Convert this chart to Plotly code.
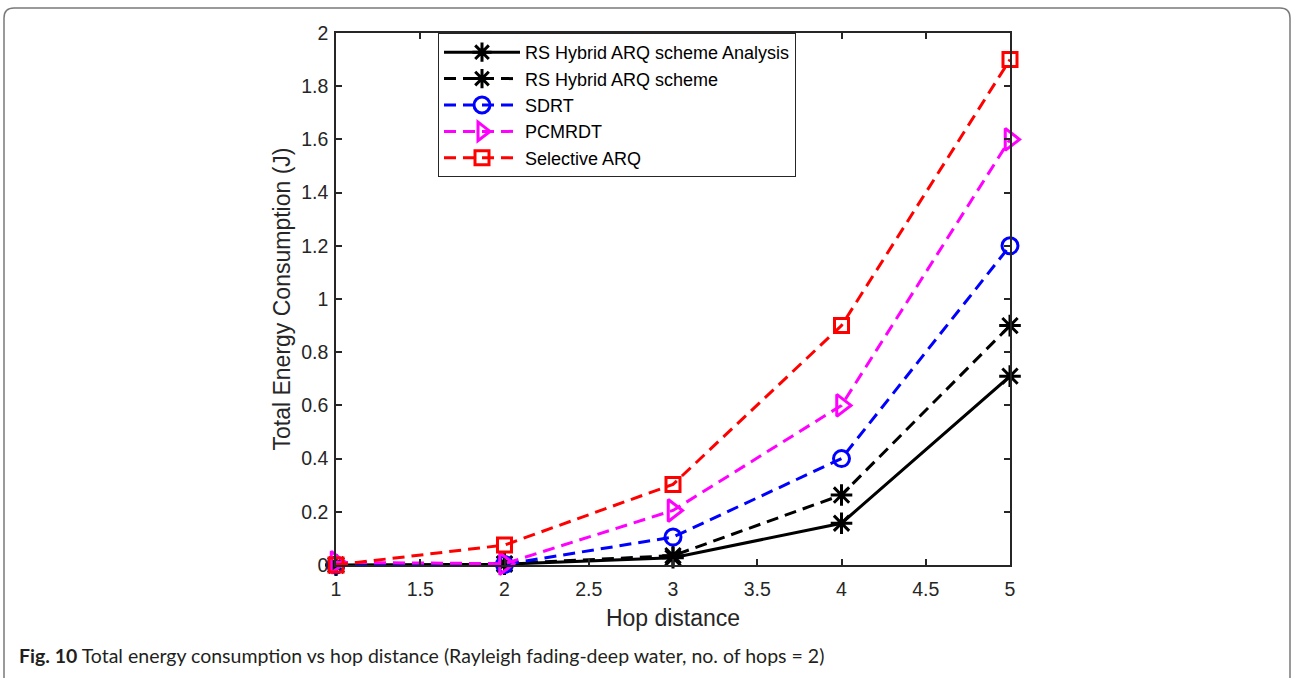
import plotly.graph_objects as go

hops = [1, 2, 3, 4, 5]
rs_analysis = [0.0, 0.003, 0.027, 0.157, 0.71]
rs_sim = [0.0, 0.005, 0.035, 0.263, 0.90]
sdrt = [0.0, 0.002, 0.105, 0.40, 1.20]
pcmrdt = [0.01, 0.005, 0.205, 0.60, 1.60]
selective = [0.0, 0.075, 0.303, 0.90, 1.90]

names = ["RS Hybrid ARQ scheme Analysis", "RS Hybrid ARQ scheme", "SDRT", "PCMRDT", "Selective ARQ"]
series = [rs_analysis, rs_sim, sdrt, pcmrdt, selective]
colors = ["#000000", "#000000", "#0000FF", "#FF00FF", "#FF0000"]
dashes = ["solid", "12px,7px", "12px,7px", "12px,7px", "12px,7px"]
symbols = ["asterisk-open", "asterisk-open", "circle-open", "triangle-right-open", "square-open"]
sizes = [18, 18, 16, 19, 14]

fig = go.Figure()
for n, ys, c, d, s, sz in zip(names, series, colors, dashes, symbols, sizes):
    fig.add_trace(go.Scatter(
        x=hops, y=ys, name=n, mode="lines+markers",
        line=dict(color=c, width=3, dash=d),
        marker=dict(symbol=s, size=sz, color=c, line=dict(color=c, width=3)),
        cliponaxis=False,
    ))

L, R, T, B = 336, 1010, 33, 565
W, H = 1291, 678
pw, ph = R - L, B - T
def px(x):
    return (x - L) / pw
def py(y):
    return (B - y) / ph

FONT = "Liberation Sans, Arial"
axis_common = dict(showline=True, linecolor="#262626", linewidth=1.5, mirror="ticks",
                   ticks="inside", ticklen=6, tickwidth=1.5, tickcolor="#262626",
                   showgrid=False, zeroline=False,
                   tickfont=dict(family=FONT, size=19.5, color="#262626"))

fig.update_layout(
    width=W, height=H, autosize=False,
    margin=dict(l=L, r=W - R, t=T, b=H - B),
    paper_bgcolor="white", plot_bgcolor="white",
    showlegend=True,
    legend=dict(x=px(438), y=1, xanchor="left", yanchor="top",
                bordercolor="#262626", borderwidth=1, bgcolor="white",
                font=dict(family=FONT, size=18, color="#000000"),
                itemwidth=76, tracegroupgap=0),
    xaxis=dict(range=[1, 5], dtick=0.5, tick0=1, ticklabelstandoff=6,
               title=dict(text="Hop distance", font=dict(family=FONT, size=23, color="#262626"), standoff=11),
               **axis_common),
    yaxis=dict(range=[0, 2], dtick=0.2, tick0=0, ticklabelstandoff=2,
               title=dict(text="Total Energy Consumption (J)", font=dict(family=FONT, size=23, color="#262626"), standoff=4),
               **axis_common),
)

# outer rounded frame
x0, x1 = px(4), px(1290)
y0, y1 = py(8), py(700)
rx, ry = 10 / pw, 10 / ph
path = (f"M {x0},{y1} L {x0},{y0 - ry} Q {x0},{y0} {x0 + rx},{y0} "
        f"L {x1 - rx},{y0} Q {x1},{y0} {x1},{y0 - ry} L {x1},{y1}")
fig.add_shape(type="path", path=path, xref="paper", yref="paper",
              line=dict(color="#7a7a7a", width=1.5), layer="below")

fig.add_annotation(
    text="<b>Fig. 10</b> Total energy consumption vs hop distance (Rayleigh fading-deep water, no. of hops = 2)",
    x=px(17), y=py(655), xref="paper", yref="paper", xanchor="left", yanchor="middle",
    showarrow=False, font=dict(family="Lato, Open Sans", size=19.5, color="#231f20"))

fig.write_html("out.html")
